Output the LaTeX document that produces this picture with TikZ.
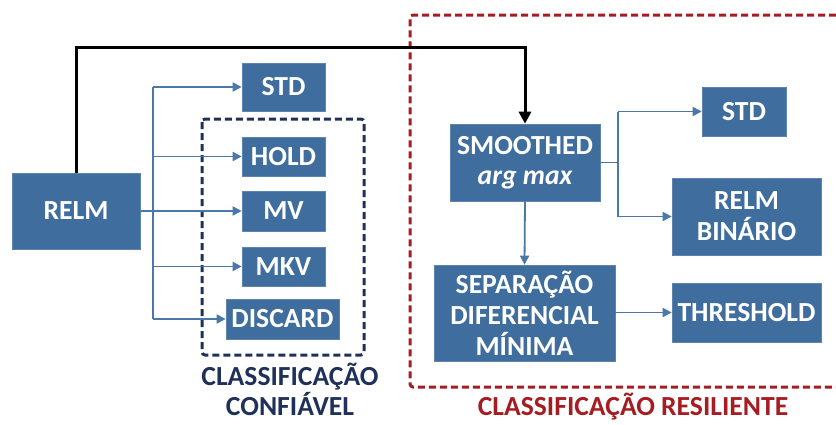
\documentclass[tikz,border=0pt]{standalone}
\usepackage{fontspec}
\setmainfont{Carlito}
\usetikzlibrary{arrows.meta,calc}
\definecolor{boxblue}{HTML}{3F6E9E}
\definecolor{linkblue}{HTML}{4A78A8}
\definecolor{navy}{HTML}{1F3158}
\definecolor{darkred}{HTML}{A51D22}
\begin{document}
\begin{tikzpicture}[x=1pt,y=-1pt,
  blk/.style={fill=boxblue, draw=boxblue!85!white, line width=0.6pt, text=white,
    font=\fontsize{27.6}{31}\selectfont\bfseries, align=center, inner sep=0pt},
  link/.style={draw=linkblue, line width=1.8pt, -{Triangle[length=9pt,width=9pt]}},
  bus/.style={draw=linkblue, line width=1.8pt},
  mainlink/.style={draw=black, line width=3pt, -{Triangle[length=12pt,width=12pt]}},
  lbl/.style={font=\fontsize{27.6}{29.5}\selectfont\bfseries, align=center, inner sep=0pt}]
\useasboundingbox (0,0) rectangle (836,424);

% group frames
\draw[navy, line width=3pt, dash pattern=on 7pt off 4pt, rounded corners=3pt]
  (202,119) rectangle (364,355);
\draw[darkred, line width=3pt, dash pattern=on 7pt off 4pt, rounded corners=3pt]
  (836,15) -- (410,15) -- (410,387) -- (836,387);

% blocks
\node[blk, minimum width=128pt, minimum height=76pt] (relm) at (76,211) {RELM};
\node[blk, minimum width=83pt, minimum height=48pt] (std1) at (283.5,87) {STD};
\node[blk, minimum width=83pt, minimum height=39pt] (hold) at (283.5,156.5) {HOLD};
\node[blk, minimum width=83pt, minimum height=40pt] (mv) at (283.5,211) {MV};
\node[blk, minimum width=83pt, minimum height=39pt] (mkv) at (283.5,266.5) {MKV};
\node[blk, minimum width=113pt, minimum height=40pt] (discard) at (282.5,319) {DISCARD};

\node[blk, minimum width=150pt, minimum height=77pt] (smooth) at (525,162.5)
  {SMOOTHED\\[-1pt]{\itshape arg max}};
\node[blk, minimum width=84pt, minimum height=49pt] (std2) at (744,111.5) {STD};
\node[blk, minimum width=149pt, minimum height=77pt] (relmbin) at (746.5,216.5) {RELM\\BINÁRIO};
\node[blk, minimum width=181pt, minimum height=96pt] (sep) at (524.5,313)
  {SEPARAÇÃO\\DIFERENCIAL\\MÍNIMA};
\node[blk, minimum width=149pt, minimum height=59pt] (thresh) at (746.5,312.5) {THRESHOLD};

% group captions
\node[lbl, text=navy] (cap1) at (290,389.5) {CLASSIFICAÇÃO\\CONFIÁVEL};
\node[lbl, text=darkred] (cap2) at (633,406.5) {CLASSIFICAÇÃO RESILIENTE};

% RELM fan-out
\coordinate (busT) at (153,87);
\coordinate (busB) at (153,319);
\draw[bus] (busT) -- (busB);
\draw[link] (relm.east) -- (mv.west);
\draw[link] (busT) -- (std1.west);
\draw[link] (busT |- hold) -- (hold.west);
\draw[link] (busT |- mkv) -- (mkv.west);
\draw[link] (busB) -- (discard.west);

% RELM to the smoothed arg max stage
\draw[mainlink] (relm.north) -- ++(0,-125) -| (smooth.north);

% smoothed arg max fan-out
\coordinate (sbusT) at (618,111.5);
\coordinate (sbusB) at (618,216.5);
\draw[bus] (smooth.east) -- (smooth.east -| sbusT);
\draw[bus] (sbusT) -- (sbusB);
\draw[link] (sbusT) -- (std2.west);
\draw[link] (sbusB) -- (relmbin.west);
\draw[link] (smooth.south) -- (sep.north);
\draw[link] (sep.east |- thresh) -- (thresh.west);
\end{tikzpicture}
\end{document}
